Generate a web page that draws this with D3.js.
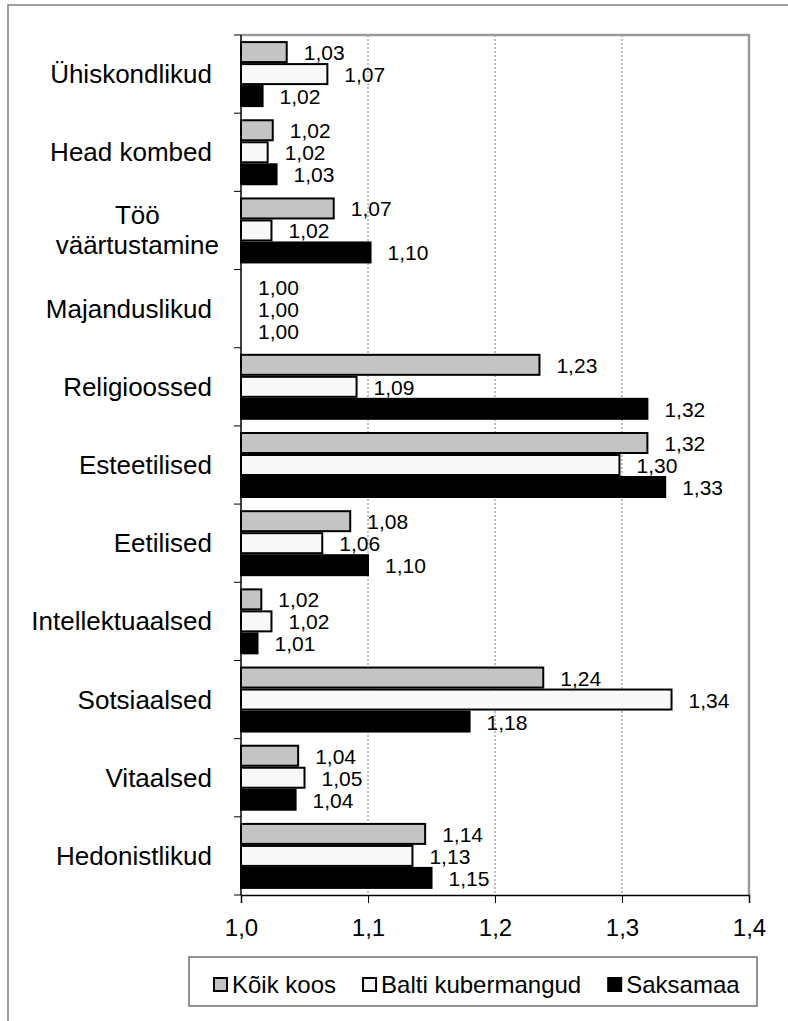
<!DOCTYPE html>
<html lang="et">
<head>
    <meta charset="UTF-8">
    <title>Väärtused</title>
    <script src="https://d3js.org/d3.v7.min.js"></script>
    <style>
        body { margin: 0; background: #fff; }
        svg { display: block; font-family: "Liberation Sans", Arial, sans-serif; }
        .cat { font-size: 26px; fill: #000; }
        .val { font-size: 21px; fill: #000; }
        .tick-label { font-size: 24px; fill: #000; }
        .legend-text { font-size: 24px; fill: #000; }
    </style>
</head>
<body>
<div id="chart"></div>
<script>
    // categories, top to bottom
    const categories = ["Ühiskondlikud", "Head kombed", "Töö väärtustamine", "Majanduslikud",
        "Religioossed", "Esteetilised", "Eetilised", "Intellektuaalsed", "Sotsiaalsed",
        "Vitaalsed", "Hedonistlikud"];
    const catLines = [["Ühiskondlikud"], ["Head kombed"], ["Töö", "väärtustamine"], ["Majanduslikud"],
        ["Religioossed"], ["Esteetilised"], ["Eetilised"], ["Intellektuaalsed"], ["Sotsiaalsed"],
        ["Vitaalsed"], ["Hedonistlikud"]];

    const seriesNames = ["Kõik koos", "Balti kubermangud", "Saksamaa"];

    // bar lengths
    const koikKoos = [1.036, 1.025, 1.073, 1.0, 1.235, 1.320, 1.086, 1.016, 1.238, 1.045, 1.145];
    const baltiKub = [1.068, 1.021, 1.024, 1.0, 1.091, 1.298, 1.064, 1.024, 1.339, 1.050, 1.135];
    const saksamaa = [1.017, 1.028, 1.102, 1.0, 1.320, 1.334, 1.100, 1.013, 1.180, 1.043, 1.150];

    // data labels as printed
    const koikKoosLbl = ["1,03", "1,02", "1,07", "1,00", "1,23", "1,32", "1,08", "1,02", "1,24", "1,04", "1,14"];
    const baltiKubLbl = ["1,07", "1,02", "1,02", "1,00", "1,09", "1,30", "1,06", "1,02", "1,34", "1,05", "1,13"];
    const saksamaaLbl = ["1,02", "1,03", "1,10", "1,00", "1,32", "1,33", "1,10", "1,01", "1,18", "1,04", "1,15"];

    const xTicks = [1.0, 1.1, 1.2, 1.3, 1.4];

    const seriesVals = [koikKoos, baltiKub, saksamaa];
    const seriesLbls = [koikKoosLbl, baltiKubLbl, saksamaaLbl];
    const fills = ["#c4c4c4", "#f8f8f8", "#000000"];

    const W = 788, H = 1021;
    const pLeft = 241, pRight = 749, pTop = 35, pBottom = 895;

    const svg = d3.select("#chart").append("svg")
        .attr("width", W)
        .attr("height", H);

    // outer frame (only top and left fall inside the picture)
    svg.append("rect")
        .attr("x", 8).attr("y", 5)
        .attr("width", 820).attr("height", 1060)
        .attr("fill", "none")
        .attr("stroke", "#808080")
        .attr("stroke-width", 1.5);

    const x = d3.scaleLinear().domain([1.0, 1.4]).range([pLeft, pRight]);
    const y = d3.scaleBand().domain(categories).range([pTop, pBottom]);
    const barH = 22;
    const groupPad = (y.bandwidth() - barH * 3) / 2;
    const y1 = d3.scaleBand().domain(d3.range(3)).range([groupPad, groupPad + barH * 3]);

    // gridlines
    svg.append("g")
        .selectAll("line")
        .data(xTicks.slice(1, -1))
        .join("line")
        .attr("x1", d => x(d)).attr("x2", d => x(d))
        .attr("y1", pTop).attr("y2", pBottom)
        .attr("stroke", "#808080")
        .attr("stroke-width", 1)
        .attr("stroke-dasharray", "2,2");

    // plot area border: top and right
    svg.append("path")
        .attr("d", `M${pLeft},${pTop}H${pRight}V${pBottom}`)
        .attr("fill", "none")
        .attr("stroke", "#9a9a9a")
        .attr("stroke-width", 2.5);

    // bars
    const groups = svg.append("g")
        .selectAll("g")
        .data(categories)
        .join("g")
        .attr("transform", d => `translate(0,${y(d)})`);

    groups.each(function (cat, i) {
        const g = d3.select(this);
        seriesVals.forEach((vals, s) => {
            const v = vals[i];
            if (v > 1.0) {
                g.append("rect")
                    .attr("x", x(1.0))
                    .attr("y", y1(s) + 1)
                    .attr("width", x(v) - x(1.0))
                    .attr("height", barH - 2)
                    .attr("fill", fills[s])
                    .attr("stroke", "#000")
                    .attr("stroke-width", 2);
            }
            g.append("text")
                .attr("class", "val")
                .attr("x", x(v) + 17)
                .attr("y", y1(s) + barH / 2 + 8)
                .text(seriesLbls[s][i]);
        });
    });

    // left axis
    svg.append("line")
        .attr("x1", pLeft).attr("x2", pLeft)
        .attr("y1", pTop).attr("y2", pBottom)
        .attr("stroke", "#000").attr("stroke-width", 1.5);
    const edges = categories.map(c => y(c)).concat([y.range()[1]]);
    svg.append("g")
        .selectAll("line")
        .data(edges)
        .join("line")
        .attr("x1", pLeft - 7).attr("x2", pLeft)
        .attr("y1", d => d).attr("y2", d => d)
        .attr("stroke", "#000").attr("stroke-width", 1);

    // bottom axis
    const xAxis = svg.append("g")
        .attr("transform", `translate(0,${pBottom})`)
        .call(d3.axisBottom(x).tickValues(xTicks).tickSize(8).tickFormat(d => d3.format(".1f")(d).replace(".", ",")));
    xAxis.select(".domain").attr("stroke", "#000").attr("stroke-width", 1.5);
    xAxis.selectAll(".tick line").attr("stroke", "#000");
    xAxis.selectAll(".tick text")
        .attr("class", "tick-label")
        .attr("y", 24)
        .attr("dy", "0.72em");
    xAxis.attr("font-family", null).attr("font-size", null);

    // category labels
    const labelRight = 212;
    svg.append("g")
        .selectAll("text")
        .data(categories)
        .join("text")
        .attr("class", "cat")
        .each(function (c, i) {
            const t = d3.select(this);
            const lines = catLines[i];
            const cy = y(c) + y.bandwidth() / 2;
            if (lines.length === 1) {
                t.attr("text-anchor", "end")
                    .attr("x", labelRight)
                    .attr("y", cy + 9)
                    .text(lines[0]);
            } else {
                t.attr("text-anchor", "middle");
                const spans = lines.map((l, k) => t.append("tspan")
                    .attr("y", cy + 9 + (k - (lines.length - 1) / 2) * 30)
                    .text(l));
                const maxW = d3.max(spans, s => s.node().getComputedTextLength());
                spans.forEach(s => s.attr("x", labelRight + 7 - maxW / 2));
            }
        });

    // legend
    const lg = svg.append("g");
    lg.append("rect")
        .attr("x", 189).attr("y", 957)
        .attr("width", 568).attr("height", 49)
        .attr("fill", "#fff")
        .attr("stroke", "#707070")
        .attr("stroke-width", 1.5);
    let lx = 213;
    seriesNames.forEach((name, s) => {
        lg.append("rect")
            .attr("x", lx + 1).attr("y", 978)
            .attr("width", 13).attr("height", 13)
            .attr("fill", fills[s])
            .attr("stroke", "#000")
            .attr("stroke-width", 2);
        const t = lg.append("text")
            .attr("class", "legend-text")
            .attr("x", lx + 19)
            .attr("y", 993)
            .text(name);
        lx += 19 + t.node().getComputedTextLength() + 26;
    });
</script>
</body>
</html>
